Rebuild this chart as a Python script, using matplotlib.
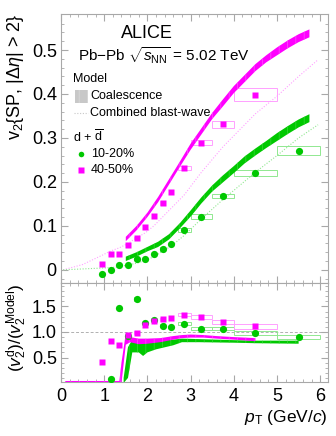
import numpy as np
import matplotlib
matplotlib.use("Agg")
import matplotlib.pyplot as plt
from matplotlib.patches import Rectangle
from matplotlib.lines import Line2D

plt.rcParams['font.family'] = ['Liberation Sans', 'DejaVu Sans']
plt.rcParams['mathtext.fontset'] = 'custom'
plt.rcParams['mathtext.rm'] = 'Liberation Sans'
plt.rcParams['mathtext.it'] = 'Liberation Sans:italic'
plt.rcParams['mathtext.sf'] = 'Liberation Sans'
plt.rcParams['hatch.linewidth'] = 0.5

# ---- data ----
# 10-20% deuterons
pt_g = [0.95, 1.15, 1.35, 1.55, 1.75, 1.95, 2.15, 2.35, 2.55, 2.85, 3.25, 3.75, 4.5, 5.5]
v2_g = [-0.01, 0.0, 0.01, 0.01, 0.025, 0.025, 0.037, 0.047, 0.058, 0.091, 0.121, 0.168, 0.22, 0.271]
sys_g = [0.003, 0.003, 0.003, 0.003, 0.003, 0.003, 0.004, 0.004, 0.004, 0.004, 0.005, 0.005, 0.006, 0.01]
ratio_g = [np.nan, 0.08, 1.47, 0.93, 1.65, 1.18, 1.24, 1.12, 1.09, 1.16, 1.06, 1.06, 0.98, 0.90]
rsys_g = [0.03, 0.03, 0.03, 0.03, 0.04, 0.03, 0.03, 0.03, 0.03, 0.03, 0.03, 0.03, 0.03, 0.04]

# 40-50% deuterons
pt_m = [0.95, 1.15, 1.35, 1.55, 1.75, 1.95, 2.15, 2.35, 2.55, 2.85, 3.25, 3.75, 4.5]
v2_m = [0.014, 0.036, 0.037, 0.057, 0.072, 0.098, 0.122, 0.152, 0.178, 0.232, 0.289, 0.331, 0.398]
sys_m = [0.003, 0.003, 0.003, 0.003, 0.003, 0.003, 0.004, 0.004, 0.004, 0.005, 0.006, 0.008, 0.015]
ratio_m = [0.42, 0.83, 0.75, 0.95, 0.99, 1.14, 1.21, 1.25, 1.27, 1.34, 1.29, 1.19, 1.11]
rsys_m = [0.03, 0.03, 0.03, 0.03, 0.03, 0.03, 0.03, 0.03, 0.03, 0.03, 0.04, 0.04, 0.05]

# syst box half widths in pT
bw = [0.05, 0.05, 0.05, 0.05, 0.05, 0.05, 0.05, 0.05, 0.05, 0.15, 0.25, 0.25, 0.5, 0.5]

# coalescence bands (top panel)
pt_coal = [1.5, 1.75, 2.0, 2.25, 2.5, 2.75, 3.0, 3.25, 3.5, 3.75, 4.0, 4.25, 4.5, 4.75, 5.0, 5.25, 5.5, 5.75]
coal_m = [0.07, 0.095, 0.125, 0.16, 0.2, 0.24, 0.28, 0.315, 0.35, 0.38, 0.41, 0.435, 0.46, 0.48, 0.497, 0.513, 0.527, 0.538]
coal_g = [0.025, 0.035, 0.047, 0.058, 0.075, 0.1, 0.128, 0.158, 0.185, 0.207, 0.228, 0.25, 0.268, 0.285, 0.302, 0.318, 0.333, 0.345]
coal_hw = [0.005, 0.005, 0.005, 0.006, 0.006, 0.006, 0.007, 0.007, 0.007, 0.008, 0.008, 0.008, 0.008, 0.008, 0.009, 0.009, 0.009, 0.009]

# combined blast-wave (dotted)
pt_bw = [0.05, 0.5, 0.95, 1.15, 1.35, 1.55, 1.75, 1.95, 2.15, 2.35, 2.55, 2.85, 3.25, 3.75, 4.5, 5.0, 5.5, 5.95]
bw_m = [0.0, 0.012, 0.033, 0.043, 0.05, 0.06, 0.073, 0.084, 0.1, 0.12, 0.14, 0.17, 0.222, 0.28, 0.355, 0.395, 0.44, 0.478]
bw_g = [0.0, 0.002, 0.004, 0.005, 0.007, 0.011, 0.015, 0.021, 0.03, 0.042, 0.054, 0.078, 0.116, 0.16, 0.222, 0.26, 0.30, 0.33]

# data / coalescence bands (ratio panel)
rb_pt_m = [0.1, 1.35, 1.4, 1.5, 1.6, 1.8, 2.0, 2.3, 2.6, 2.8, 3.0, 3.3, 3.6, 4.0, 4.5]
rb_lo_m = [0.0, 0.0, 0.0, 0.75, 0.8, 0.76, 0.77, 0.8, 0.85, 0.88, 0.89, 0.89, 0.87, 0.85, 0.82]
rb_hi_m = [0.04, 0.04, 0.4, 0.97, 0.9, 0.87, 0.87, 0.88, 0.92, 0.94, 0.95, 0.94, 0.92, 0.9, 0.88]
rb_pt_g = [1.45, 1.55, 1.65, 1.8, 1.9, 2.0, 2.2, 2.4, 2.6, 2.8, 3.2, 4.0, 4.5, 5.5]
rb_lo_g = [0.0, 0.1, 0.6, 0.6, 0.53, 0.6, 0.66, 0.7, 0.74, 0.8, 0.8, 0.79, 0.78, 0.77]
rb_hi_g = [0.1, 0.7, 0.85, 0.83, 0.83, 0.83, 0.83, 0.84, 0.85, 0.87, 0.86, 0.84, 0.83, 0.83]

green = '#00c800'
magenta = '#ff00ff'
green_l = '#90e890'
magenta_l = '#ffa0ff'
frame = '#a8a8a8'

W, H = 336, 436
fig = plt.figure(figsize=(W / 100, H / 100), dpi=100)

def fx(px):
    return px / W

def fy(py):
    return 1 - py / H

ax1 = fig.add_axes([fx(61), fy(283), fx(328) - fx(61), fy(14) - fy(283)])
ax2 = fig.add_axes([fx(61), fy(382), fx(328) - fx(61), fy(283) - fy(382)])

def style(ax):
    for s in ax.spines.values():
        s.set_color(frame)
        s.set_linewidth(0.8)
    ax.tick_params(which='both', direction='in', top=True, right=True,
                   color=frame, labelsize=13, pad=3)
    ax.tick_params(which='major', length=5)
    ax.tick_params(which='minor', length=2.5)
    ax.set_xlim(0, 6.18)
    ax.set_xticks(range(7))
    ax.set_xticks(np.arange(0, 6.2, 0.2), minor=True)

style(ax1)
style(ax2)

def boxes(ax, xs, ys, es, ws, col):
    for x, y, e, w in zip(xs, ys, es, ws):
        if np.isnan(y):
            continue
        ax.add_patch(Rectangle((x - w, y - e), 2 * w, 2 * e, fill=False,
                               edgecolor=col, linewidth=0.7, zorder=2))

# ---- top panel ----
c_m = np.array(coal_m)
c_g = np.array(coal_g)
hw = np.array(coal_hw)
ax1.fill_between(pt_coal, c_m - hw, c_m + hw, facecolor=magenta, edgecolor='#ff50ff',
                 hatch='||', linewidth=0, zorder=3)
ax1.fill_between(pt_coal, c_g - hw, c_g + hw, facecolor=green, edgecolor='#38d838',
                 hatch='||', linewidth=0, zorder=3)
ax1.plot(pt_bw, bw_m, ls=(0, (1, 1.5)), color=magenta_l, lw=0.8, zorder=2)
ax1.plot(pt_bw, bw_g, ls=(0, (1, 1.5)), color=green_l, lw=0.8, zorder=2)
boxes(ax1, pt_g, v2_g, sys_g, bw, green_l)
boxes(ax1, pt_m, v2_m, sys_m, bw, magenta_l)
ax1.plot(pt_g, v2_g, 'o', color=green, ms=5.2, mec='none', zorder=5)
ax1.plot(pt_m, v2_m, 's', color=magenta, ms=5, mec='none', zorder=5)

ax1.set_ylim(-0.03, 0.582)
ax1.set_yticks([0, 0.1, 0.2, 0.3, 0.4, 0.5])
ax1.set_yticklabels(['0', '0.1', '0.2', '0.3', '0.4', '0.5'])
ax1.set_yticks(np.arange(-0.02, 0.58, 0.02), minor=True)
ax1.tick_params(labelbottom=False)
ax1.text(-0.17, 1.0, r'v$_{2}${SP, |$\Delta\eta$| > 2}', transform=ax1.transAxes,
         rotation=90, ha='center', va='top', fontsize=13)

# ---- ratio panel ----
ax2.fill_between(rb_pt_g, rb_lo_g, rb_hi_g, facecolor=green, edgecolor='#38d838',
                 hatch='||', linewidth=0, zorder=3)
ax2.fill_between(rb_pt_m, rb_lo_m, rb_hi_m, facecolor=magenta, edgecolor='#ff50ff',
                 hatch='||', linewidth=0, zorder=3)
ax2.axhline(1.0, color='#b0b0b0', ls=(0, (3, 2)), lw=0.7, zorder=1)
boxes(ax2, pt_g, ratio_g, rsys_g, bw, green_l)
boxes(ax2, pt_m, ratio_m, rsys_m, bw, magenta_l)
ax2.plot(pt_g, ratio_g, 'o', color=green, ms=5.2, mec='none', zorder=5)
ax2.plot(pt_m, ratio_m, 's', color=magenta, ms=5, mec='none', zorder=5)

ax2.set_ylim(0.02, 1.96)
ax2.set_yticks([0.5, 1.0, 1.5])
ax2.set_yticklabels(['0.5', '1.0', '1.5'])
ax2.set_yticks(np.arange(0.1, 1.96, 0.1), minor=True)
ax2.tick_params(axis='x', pad=4)
ax2.text(-0.165, 1.0, r'$(v_{2}^{\rm d})/(v_{2}^{\rm Model})$', transform=ax2.transAxes,
         rotation=90, ha='center', va='top', fontsize=12.5)
ax2.text(1.0, -0.36, r'$p_{\rm T}$ (GeV/$c$)', transform=ax2.transAxes,
         ha='right', va='center', fontsize=12.5)

# ---- labels and legend ----
fig.text(fx(147), fy(33), 'ALICE', ha='center', va='center', fontsize=13)
fig.text(fx(78), fy(56), r'Pb$-$Pb $\sqrt{s_{\rm NN}}$ = 5.02 TeV', ha='left', va='center',
         fontsize=11)

fig.text(fx(73), fy(79), 'Model', ha='left', va='center', fontsize=9)
fig.patches.append(Rectangle((fx(75), fy(103)), fx(88) - fx(75), fy(90) - fy(103),
                             transform=fig.transFigure, facecolor='#c8c8c8',
                             edgecolor='#dcdcdc', hatch='||', linewidth=0))
fig.text(fx(90), fy(96), 'Coalescence', ha='left', va='center', fontsize=9)
fig.lines.append(Line2D([fx(74), fx(88)], [fy(113), fy(113)], transform=fig.transFigure,
                        color='#c8c8c8', ls=(0, (1, 1.5)), lw=0.8))
fig.text(fx(90), fy(113), 'Combined blast-wave', ha='left', va='center', fontsize=9)
fig.text(fx(73), fy(137), r'd + $\overline{\rm d}$', ha='left', va='center', fontsize=9)
fig.lines.append(Line2D([fx(81)], [fy(154)], transform=fig.transFigure, marker='o',
                        color=green, ms=4, mec='none', ls='none'))
fig.text(fx(91), fy(154), '10-20%', ha='left', va='center', fontsize=9)
fig.lines.append(Line2D([fx(81)], [fy(170)], transform=fig.transFigure, marker='s',
                        color=magenta, ms=4, mec='none', ls='none'))
fig.text(fx(91), fy(170), '40-50%', ha='left', va='center', fontsize=9)

fig.savefig('out.png', dpi=100)
